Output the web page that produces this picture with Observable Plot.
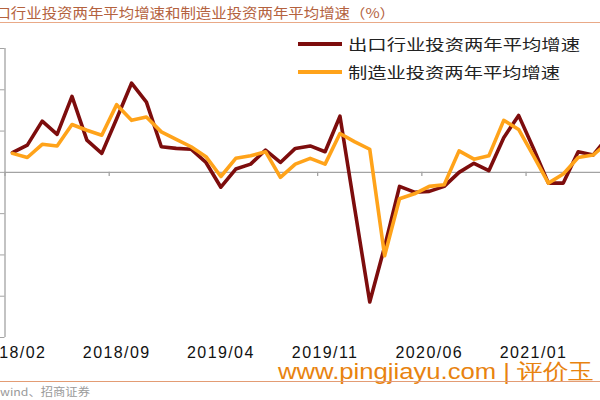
<!DOCTYPE html>
<html><head><meta charset="utf-8">
<script src="https://cdn.jsdelivr.net/npm/d3@7"></script>
<script src="https://cdn.jsdelivr.net/npm/@observablehq/plot@0.6"></script>
<style>
html,body{margin:0;padding:0;background:#fff;width:600px;height:400px;overflow:hidden;position:relative;}
#chart{position:absolute;left:0;top:0;width:600px;height:400px;}
#chart svg text{letter-spacing:1.4px;}
.ov{position:absolute;white-space:nowrap;transform-origin:0 50%;}
.sw{position:absolute;height:4px;}
</style></head><body>
<div id="chart"></div>
<div class="ov" id="title" style="left:-20px;top:3px;font:13.5px 'Noto Sans CJK SC';line-height:18px;color:#b4623e;" data-w="415">出口行业投资两年平均增速和制造业投资两年平均增速（%）</div>
<div style="position:absolute;left:0;top:22px;width:600px;height:1px;background:#e9a987;"></div>
<div class="sw" style="left:298px;top:42px;width:44px;background:#7d0d0d;"></div>
<div class="ov" id="lg1" style="left:348px;top:35px;font:15px 'Noto Sans CJK SC';line-height:18px;color:#222;" data-w="232">出口行业投资两年平均增速</div>
<div class="sw" style="left:298px;top:70px;width:44px;background:#ffa31a;"></div>
<div class="ov" id="lg2" style="left:348px;top:63px;font:15px 'Noto Sans CJK SC';line-height:18px;color:#222;" data-w="212">制造业投资两年平均增速</div>
<div class="ov" id="wm" style="left:278px;top:358px;font:22px 'Liberation Sans';line-height:28px;color:#e8830f;" data-w="316">www.pingjiayu.com | 评价玉</div>
<div style="position:absolute;left:0;top:381px;width:600px;height:1px;background:#e39c74;"></div>
<div class="ov" id="src" style="left:0px;top:384px;font:11px 'Noto Sans CJK SC';line-height:14px;color:#9a9a9a;" data-w="90">wind、招商证券</div>
<script>
// Monthly series, 2018/02 onward (index 0 = 2018/02)
const exportGrowth = [2.4, 3.3, 6.2, 4.6, 9.2, 3.9, 2.3, 6.5, 10.8, 8.5, 3.1, 2.9, 2.8, 1.2, -1.8, 0.4, 1.0, 2.7, 1.2, 2.9, 3.2, 2.5, 6.8, -4.5, -15.7, -9.0, -1.7, -2.4, -2.3, -1.7, 0.0, 1.1, 0.2, 4.2, 6.9, 2.9, -1.3, -1.3, 2.5, 2.1, 4.3];
const mfgGrowth    = [2.3, 1.8, 3.4, 3.2, 5.8, 5.1, 4.5, 8.2, 6.3, 6.7, 4.9, 4.0, 3.1, 1.9, -0.5, 1.7, 2.0, 2.5, -0.6, 1.0, 1.7, 1.0, 4.7, 3.7, 2.8, -10.1, -3.2, -2.6, -1.7, -1.5, 2.6, 1.6, 2.0, 6.3, 5.2, 2.0, -1.3, -0.2, 1.8, 2.1, 3.6];
const tickLabels = ["2018/02", "2018/09", "2019/04", "2019/11", "2020/06", "2021/01"];
const tickIdx = [0, 7, 14, 21, 28, 35];
const yTicks = [-20, -15, -10, -5, 0, 5, 10, 15];

const rows = exportGrowth.map((v, i) => ({i, exp: v, mfg: mfgGrowth[i]}));
const boundaries = tickIdx.map(i => i - 0.5);
const axisColor = "#a3a3a3";

const chart = Plot.plot({
  width: 600, height: 400,
  marginLeft: 4.5, marginRight: 0, marginTop: 48, marginBottom: 63,
  x: {domain: [-0.5, 39.5], axis: null, label: null},
  y: {domain: [-20, 15], axis: null, label: null},
  style: {background: "transparent", fontFamily: "'Liberation Sans', Arial, sans-serif"},
  marks: [
    Plot.ruleY([0], {stroke: axisColor, strokeWidth: 1.3}),
    Plot.ruleX([-0.5], {y1: -20, y2: 15, stroke: axisColor, strokeWidth: 1.3}),
    Plot.axisY({ticks: yTicks, tickSize: 5, tickFormat: () => "", stroke: axisColor, label: null}),
    Plot.ruleX(boundaries, {y1: 0, y2: -0.5, stroke: axisColor, strokeWidth: 1.3}),
    Plot.axisX({ticks: tickIdx, tickSize: 0, tickPadding: 9, tickFormat: d => tickLabels[tickIdx.indexOf(d)], fontSize: 16, fill: "#111", label: null}),
    Plot.line(rows, {x: "i", y: "exp", stroke: "#7d0d0d", strokeWidth: 3.6, clip: true}),
    Plot.line(rows, {x: "i", y: "mfg", stroke: "#ffa31a", strokeWidth: 3.6, clip: true})
  ]
});
document.getElementById("chart").appendChild(chart);

document.querySelectorAll(".ov[data-w]").forEach(el => {
  const w = el.getBoundingClientRect().width;
  const target = +el.dataset.w;
  if (w > 0) el.style.transform = `scaleX(${target / w})`;
});
</script>
</body></html>
